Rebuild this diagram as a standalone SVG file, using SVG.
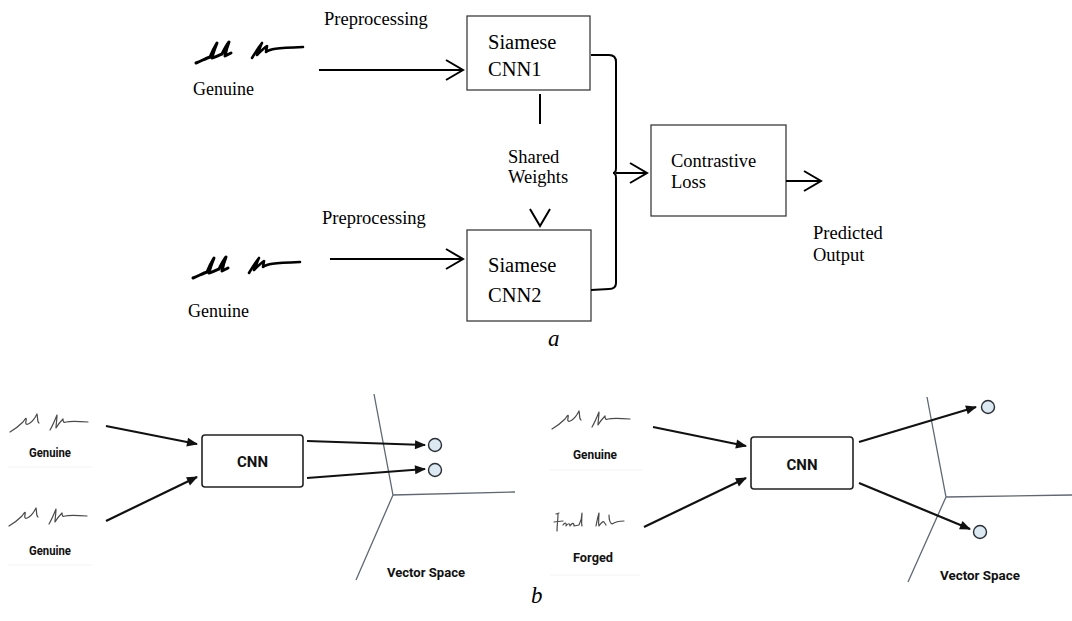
<svg xmlns="http://www.w3.org/2000/svg" width="1072" height="621" viewBox="0 0 1072 621">
<style>
.serif{font-family:"Liberation Serif","Times New Roman",serif;fill:#000}
.sans{font-family:Roboto,"DejaVu Sans",sans-serif;font-weight:700;fill:#111}
.box{fill:#fff;stroke:#3c3c3c;stroke-width:1.3}
.line{fill:none;stroke:#000;stroke-width:2}
.arr{fill:none;stroke:#111;stroke-width:2.2}
.vs{fill:none;stroke:#5f6873;stroke-width:1.3}
.dot{fill:#dce8f2;stroke:#2a2f36;stroke-width:1.4}
.rbox{fill:#fff;stroke:#222;stroke-width:1.6}
.sigT{fill:none;stroke:#000;stroke-linecap:round;stroke-linejoin:round}
.sigB{fill:none;stroke:#4a4a4a;stroke-width:1.2;stroke-linecap:round;stroke-linejoin:round}
.faint{stroke:#f3f3f3;stroke-width:1}
</style>
<defs>
<marker id="vhead" markerUnits="userSpaceOnUse" markerWidth="22" markerHeight="24" refX="18" refY="11" orient="auto" overflow="visible">
<path d="M1,1 L18,11 L1,21" fill="none" stroke="#000" stroke-width="2"/>
</marker>
<marker id="fhead" markerUnits="userSpaceOnUse" markerWidth="11" markerHeight="9" refX="10" refY="4.5" orient="auto" overflow="visible">
<path d="M0,0 L11,4.5 L0,9 z" fill="#111"/>
</marker>
<g id="sigThin">
<path class="sigB" d="M0,19 C5,16 9,13 13,9 C15,6 17,3 16,8 C15,12 17,12 20,10 C23,8 26,3 27,1 C28,5 27,9 29,10"/>
<path class="sigB" d="M40,17 C43,12 45,7 47,2 C47,7 46,11 46,15 C49,10 51,8 53,6 C53,9 54,10 56,9 C60,8 65,8 78,9"/>
</g>
<g id="sigThick">
<path class="sigT" stroke-width="3" d="M196,63 C203,60 207,58 210,57 C212,52 214,48 217,43 C215,48 213,53 212,58 C216,57 219,55 222,54 C224,50 226,46 229,42 C227,47 226,51 225,56 C227,55 229,54 231,53"/>
<path class="sigT" stroke-width="2.6" d="M252,58 C255,53 258,48 262,43 C260,47 259,51 257,55 C261,51 264,48 267,46 C267,48 266,50 266,52 C270,49 275,48 303,47"/>
</g>
</defs>
<rect width="1072" height="621" fill="#fff"/>

<!-- Part a -->
<g id="sig-a1"><use href="#sigThick"/><text class="serif" x="193" y="95" font-size="18">Genuine</text></g>
<g id="sig-a2"><use href="#sigThick" transform="translate(-3,215)"/><text class="serif" x="188" y="317" font-size="18">Genuine</text></g>
<g id="lbl-pre1"><text class="serif" x="324" y="25" font-size="18.5">Preprocessing</text></g>
<g id="lbl-pre2"><text class="serif" x="322" y="224" font-size="18.5">Preprocessing</text></g>
<g id="cnn1"><rect class="box" x="467" y="16" width="123" height="74"/>
<text class="serif" x="488" y="49" font-size="20.5">Siamese</text><text class="serif" x="488" y="76" font-size="20.5">CNN1</text></g>
<g id="cnn2"><rect class="box" x="467" y="230" width="124" height="91"/>
<text class="serif" x="488" y="272" font-size="20.5">Siamese</text><text class="serif" x="488" y="302" font-size="20.5">CNN2</text></g>
<g id="shared"><text class="serif" x="508" y="163" font-size="18.5">Shared</text><text class="serif" x="508" y="183" font-size="18.5">Weights</text></g>
<g id="loss"><rect class="box" x="651" y="125" width="135" height="91"/>
<text class="serif" x="671" y="167" font-size="18.5">Contrastive</text><text class="serif" x="671" y="188" font-size="18.5">Loss</text></g>
<g id="pred"><text class="serif" x="813" y="239" font-size="18.5">Predicted</text><text class="serif" x="813" y="261" font-size="18.5">Output</text></g>
<g id="cap-a"><text class="serif" x="548" y="346" font-size="23" font-style="italic">a</text></g>

<g id="connectors-a">
<line class="line" x1="319" y1="70" x2="463" y2="70" marker-end="url(#vhead)"/>
<line class="line" x1="330" y1="259" x2="463" y2="259" marker-end="url(#vhead)"/>
<line class="line" x1="540" y1="94" x2="540" y2="124"/>
<path class="line" d="M530,209 L540,226 L550,209"/>
<path class="line" d="M591,55 L609,55 Q616,55 616,62 L616,168 Q616,173 613,173 Q616,173 616,178 L616,283 Q616,289 609,289 L591,290"/>
<line class="line" x1="616" y1="173" x2="647" y2="173" marker-end="url(#vhead)"/>
<line class="line" x1="786" y1="181" x2="821" y2="181" marker-end="url(#vhead)"/>
</g>

<!-- Part b left -->
<g id="b-left-in1"><use href="#sigThin" transform="translate(10,413)"/><text class="sans" x="29" y="457" font-size="12.5" textLength="42" lengthAdjust="spacingAndGlyphs">Genuine</text><line class="faint" x1="8" y1="467" x2="92" y2="467"/></g>
<g id="b-left-in2"><use href="#sigThin" transform="translate(9,507)"/><text class="sans" x="29" y="555" font-size="12.5" textLength="42" lengthAdjust="spacingAndGlyphs">Genuine</text><line class="faint" x1="8" y1="565" x2="92" y2="565"/></g>
<g id="b-left-cnn"><rect class="rbox" x="202" y="435" width="101" height="52" rx="3"/><text class="sans" x="252.5" y="467" font-size="15" text-anchor="middle">CNN</text></g>
<g id="b-left-space"><path class="vs" d="M374,394 L393,495 L515,492 M393,495 L356,580"/>
<circle class="dot" cx="435" cy="445" r="6.5"/><circle class="dot" cx="435" cy="470" r="6.5"/>
<text class="sans" x="387" y="577" font-size="13" textLength="78" lengthAdjust="spacingAndGlyphs">Vector Space</text></g>

<!-- Part b right -->
<g id="b-right-in1"><use href="#sigThin" transform="translate(552,410)"/><text class="sans" x="573" y="459" font-size="12.5" textLength="44" lengthAdjust="spacingAndGlyphs">Genuine</text><line class="faint" x1="550" y1="470" x2="642" y2="470"/></g>
<g id="b-right-in2"><path class="sigB" stroke="#333" stroke-width="1" d="M556,514 L559,513 M558,514 C558,520 557,525 557,531 M554,522 L563,521 M563,525 C565,522 567,523 566,526 C568,523 570,523 570,526 C572,523 574,522 574,526 L579,525 C581,521 582,516 582,513 C582,518 581,522 582,526 M596,526 C597,521 598,516 599,513 C599,518 598,522 599,526 C601,523 603,521 604,522 L606,525 M609,515 C609,520 610,523 612,524 C615,522 618,521 624,521"/>
<text class="sans" x="573" y="562" font-size="12.5" textLength="40" lengthAdjust="spacingAndGlyphs">Forged</text><line class="faint" x1="550" y1="575" x2="640" y2="575"/></g>
<g id="b-right-cnn"><rect class="rbox" x="751" y="437" width="102" height="52" rx="3"/><text class="sans" x="802" y="470" font-size="15" text-anchor="middle">CNN</text></g>
<g id="b-right-space"><path class="vs" d="M927,397 L946,497 L1072,495 M946,497 L908,582"/>
<circle class="dot" cx="988" cy="407" r="6.5"/><circle class="dot" cx="980" cy="532" r="6.5"/>
<text class="sans" x="940" y="580" font-size="13" textLength="80" lengthAdjust="spacingAndGlyphs">Vector Space</text></g>
<g id="cap-b"><text class="serif" x="531" y="603" font-size="23" font-style="italic">b</text></g>

<g id="connectors-b">
<line class="arr" x1="106" y1="426" x2="197" y2="444" marker-end="url(#fhead)"/>
<line class="arr" x1="106" y1="521" x2="197" y2="477" marker-end="url(#fhead)"/>
<line class="arr" x1="307" y1="441" x2="425" y2="445" marker-end="url(#fhead)"/>
<line class="arr" x1="307" y1="478" x2="425" y2="469" marker-end="url(#fhead)"/>
<line class="arr" x1="653" y1="427" x2="746" y2="446" marker-end="url(#fhead)"/>
<line class="arr" x1="644" y1="527" x2="746" y2="478" marker-end="url(#fhead)"/>
<line class="arr" x1="859" y1="442" x2="976" y2="407" marker-end="url(#fhead)"/>
<line class="arr" x1="859" y1="483" x2="970" y2="529" marker-end="url(#fhead)"/>
</g>
</svg>
